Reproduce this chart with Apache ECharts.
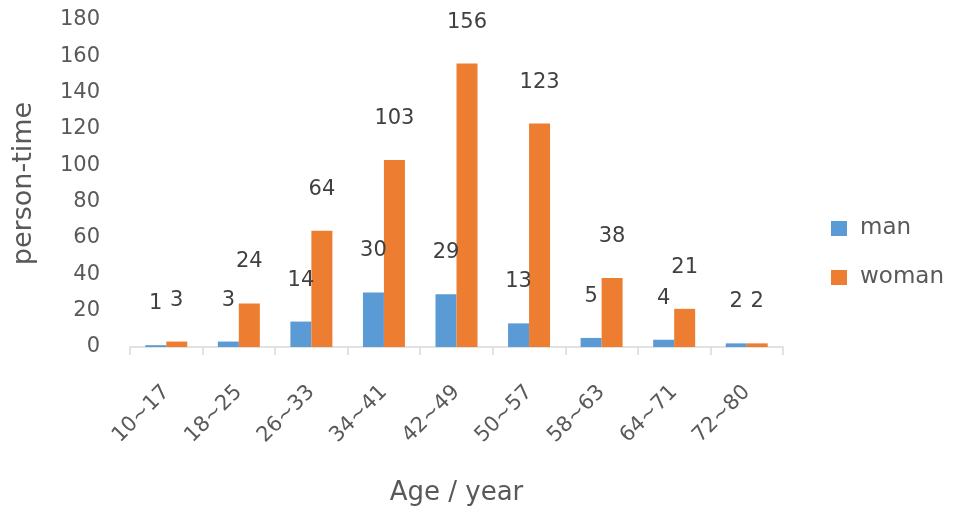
<!DOCTYPE html>
<html>
<head>
<meta charset="utf-8">
<script src="https://cdn.jsdelivr.net/npm/echarts@6/dist/echarts.min.js"></script>
<style>
  html, body { margin: 0; padding: 0; background: #fff; }
  #chart { width: 963px; height: 512px; }
</style>
</head>
<body>
<div id="chart"></div>
<script>
const ageGroups = ["10~17", "18~25", "26~33", "34~41", "42~49", "50~57", "58~63", "64~71", "72~80"];
const manCounts = [1, 3, 14, 30, 29, 13, 5, 4, 2];
const womanCounts = [3, 24, 64, 103, 156, 123, 38, 21, 2];

const font = "DejaVu Sans";
const textGray = "#595959";

const chart = echarts.init(document.querySelector("#chart"));

function barSeries(name, data, color) {
  return {
    name,
    type: "bar",
    data,
    barWidth: 21,
    barGap: "0%",
    itemStyle: { color },
    label: {
      show: true,
      position: "top",
      distance: 31,
      color: "#404040",
      fontFamily: font,
      fontSize: 21,
    },
  };
}

chart.setOption({
  animation: false,
  backgroundColor: "#fff",
  grid: { left: 130, right: 180, top: 20, bottom: 165, outerBoundsMode: "none" },
  legend: {
    orient: "vertical",
    left: 826,
    top: 212,
    itemWidth: 16,
    itemHeight: 15,
    itemGap: 26,
    icon: "rect",
    textStyle: { color: textGray, fontFamily: font, fontSize: 23, padding: [0, 0, 0, 8] },
    data: ["man", "woman"],
  },
  xAxis: {
    type: "category",
    data: ageGroups,
    name: "Age / year",
    nameLocation: "middle",
    nameGap: 133,
    nameTextStyle: { color: textGray, fontFamily: font, fontSize: 26 },
    axisLine: { lineStyle: { color: "#d9d9d9", width: 1.5 } },
    axisTick: { show: true, length: 8, lineStyle: { color: "#d9d9d9", width: 1.5 } },
    axisLabel: {
      rotate: 45,
      margin: 42,
      color: textGray,
      fontFamily: font,
      fontSize: 21,
    },
  },
  yAxis: {
    type: "value",
    min: 0,
    max: 180,
    interval: 20,
    name: "person-time",
    nameLocation: "middle",
    nameGap: 93,
    nameTextStyle: { color: textGray, fontFamily: font, fontSize: 27 },
    axisLine: { show: false },
    axisTick: { show: false },
    splitLine: { show: false },
    axisLabel: { margin: 30, color: textGray, fontFamily: font, fontSize: 21 },
  },
  series: [
    barSeries("man", manCounts, "#5B9BD5"),
    barSeries("woman", womanCounts, "#ED7D31"),
  ],
});
</script>
</body>
</html>
